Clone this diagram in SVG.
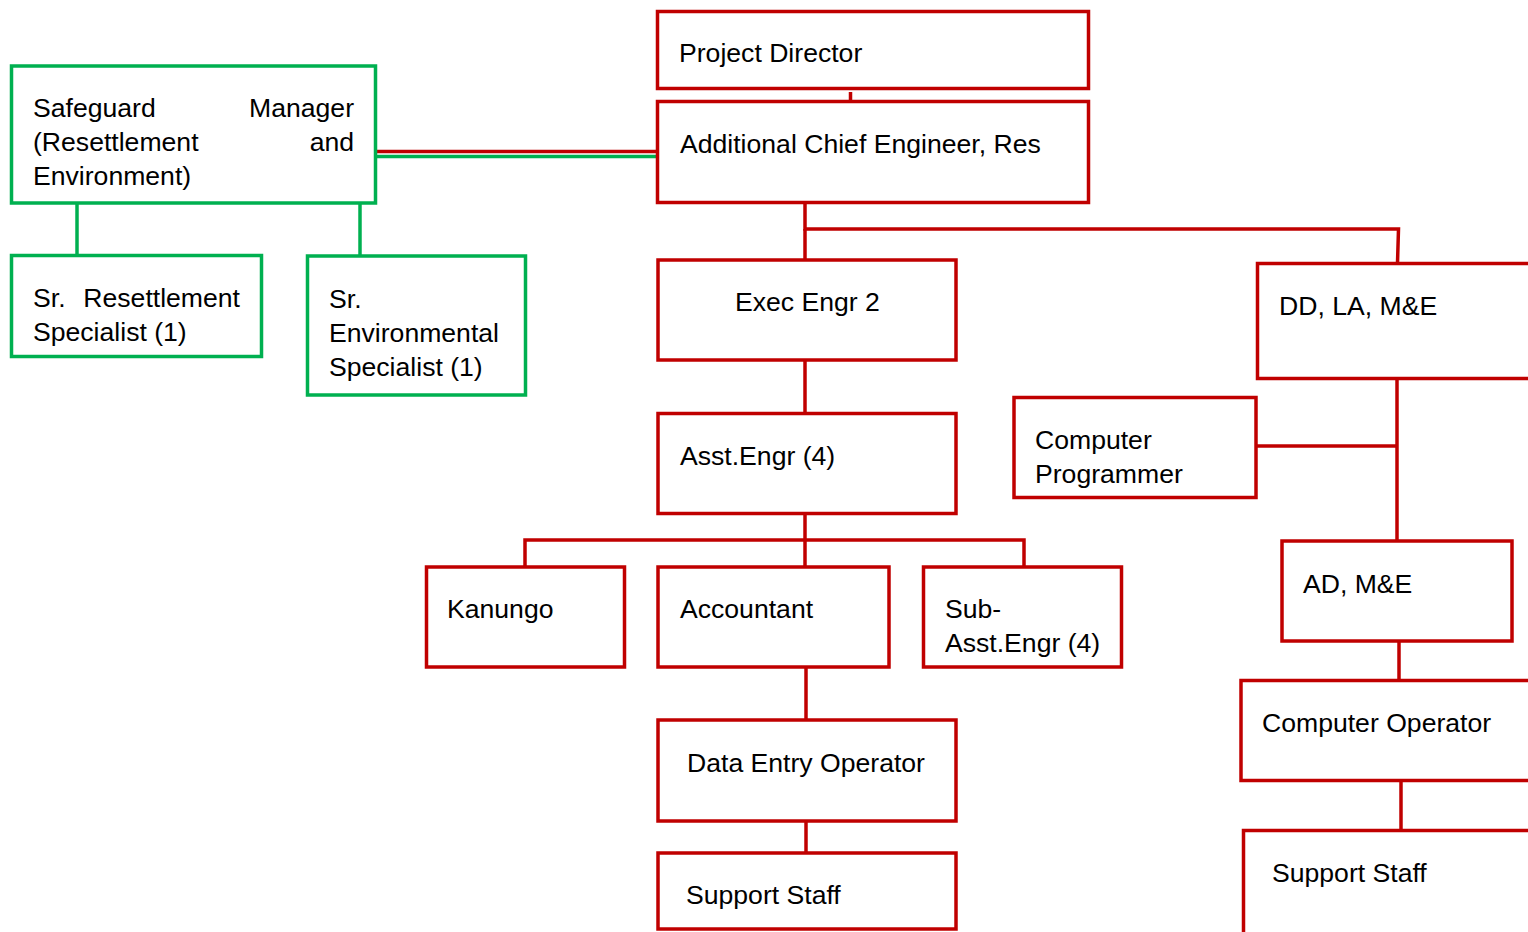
<svg xmlns="http://www.w3.org/2000/svg" width="1528" height="932" viewBox="0 0 1528 932">
<style>
.r{fill:#fff;stroke:#C00000;stroke-width:3.5}
.g{fill:#fff;stroke:#00B050;stroke-width:3.5}
.cr{stroke:#C00000;stroke-width:3.5;fill:none}
.cg{stroke:#00B050;stroke-width:3.5;fill:none}
text{font-family:"Liberation Sans",Arial,sans-serif;font-size:26.6px;fill:#000}
</style>
<rect width="1528" height="932" fill="#fff"/>
<g id="connectors">
<line class="cr" x1="850.5" y1="92" x2="850.5" y2="102"/>
<line class="cr" x1="376" y1="151.5" x2="658" y2="151.5"/>
<line class="cg" x1="376" y1="156.5" x2="658" y2="156.5"/>
<line class="cg" x1="77" y1="203" x2="77" y2="256"/>
<line class="cg" x1="360" y1="203" x2="360" y2="256"/>
<polyline class="cr" points="805,202 805,229 1398.5,229 1397.5,263"/>
<line class="cr" x1="805" y1="229" x2="805" y2="260"/>
<line class="cr" x1="805" y1="360" x2="805" y2="414"/>
<line class="cr" x1="805" y1="513" x2="805" y2="567"/>
<polyline class="cr" points="525,567 525,540 1024,540 1024,567"/>
<line class="cr" x1="806" y1="667" x2="806" y2="720"/>
<line class="cr" x1="806" y1="821" x2="806" y2="853"/>
<line class="cr" x1="1397" y1="379" x2="1397" y2="541"/>
<line class="cr" x1="1256" y1="446" x2="1397" y2="446"/>
<line class="cr" x1="1399" y1="641" x2="1399" y2="681"/>
<line class="cr" x1="1401" y1="780" x2="1401" y2="831"/>
</g>
<g id="project-director"><rect class="r" x="657.5" y="11.5" width="431" height="77"/><text x="679" y="62">Project Director</text></g>
<g id="ace"><rect class="r" x="657.5" y="101.5" width="431" height="101"/><text x="680" y="153">Additional Chief Engineer, Res</text></g>
<g id="safeguard"><rect class="g" x="11.5" y="66" width="364" height="137"/>
<text x="33" y="117">Safeguard</text><text x="354" y="117" text-anchor="end">Manager</text>
<text x="33" y="151">(Resettlement</text><text x="354" y="151" text-anchor="end">and</text>
<text x="33" y="185">Environment)</text></g>
<g id="sr-res"><rect class="g" x="11.5" y="255.5" width="250" height="101"/>
<text x="33" y="307">Sr.</text><text x="240" y="307" text-anchor="end">Resettlement</text>
<text x="33" y="341">Specialist (1)</text></g>
<g id="sr-env"><rect class="g" x="307.5" y="256" width="218" height="139"/>
<text x="329" y="308">Sr.</text><text x="329" y="342">Environmental</text><text x="329" y="376">Specialist (1)</text></g>
<g id="exec"><rect class="r" x="658" y="260" width="298" height="100"/><text x="735" y="311">Exec Engr 2</text></g>
<g id="asst"><rect class="r" x="658" y="413.5" width="298" height="100"/><text x="680" y="465">Asst.Engr (4)</text></g>
<g id="kanungo"><rect class="r" x="426.5" y="567" width="198" height="100"/><text x="447" y="618">Kanungo</text></g>
<g id="accountant"><rect class="r" x="658" y="567" width="231" height="100"/><text x="680" y="618">Accountant</text></g>
<g id="sub-asst"><rect class="r" x="923.5" y="567" width="198" height="100"/><text x="945" y="618">Sub-</text><text x="945" y="652">Asst.Engr (4)</text></g>
<g id="deo"><rect class="r" x="658" y="720" width="298" height="101"/><text x="687" y="772">Data Entry Operator</text></g>
<g id="support-left"><rect class="r" x="658" y="853" width="298" height="76"/><text x="686" y="904">Support Staff</text></g>
<g id="dd"><rect class="r" x="1257.5" y="263.5" width="300" height="115"/><text x="1279" y="315">DD, LA, M&amp;E</text></g>
<g id="comp-prog"><rect class="r" x="1014" y="397.5" width="242" height="100"/><text x="1035" y="449">Computer</text><text x="1035" y="483">Programmer</text></g>
<g id="ad"><rect class="r" x="1282" y="541" width="230" height="100"/><text x="1303" y="593">AD, M&amp;E</text></g>
<g id="comp-op"><rect class="r" x="1241" y="680.5" width="300" height="100"/><text x="1262" y="732">Computer Operator</text></g>
<g id="support-right"><rect class="r" x="1243.5" y="830.5" width="300" height="120"/><text x="1272" y="882">Support Staff</text></g>
</svg>
